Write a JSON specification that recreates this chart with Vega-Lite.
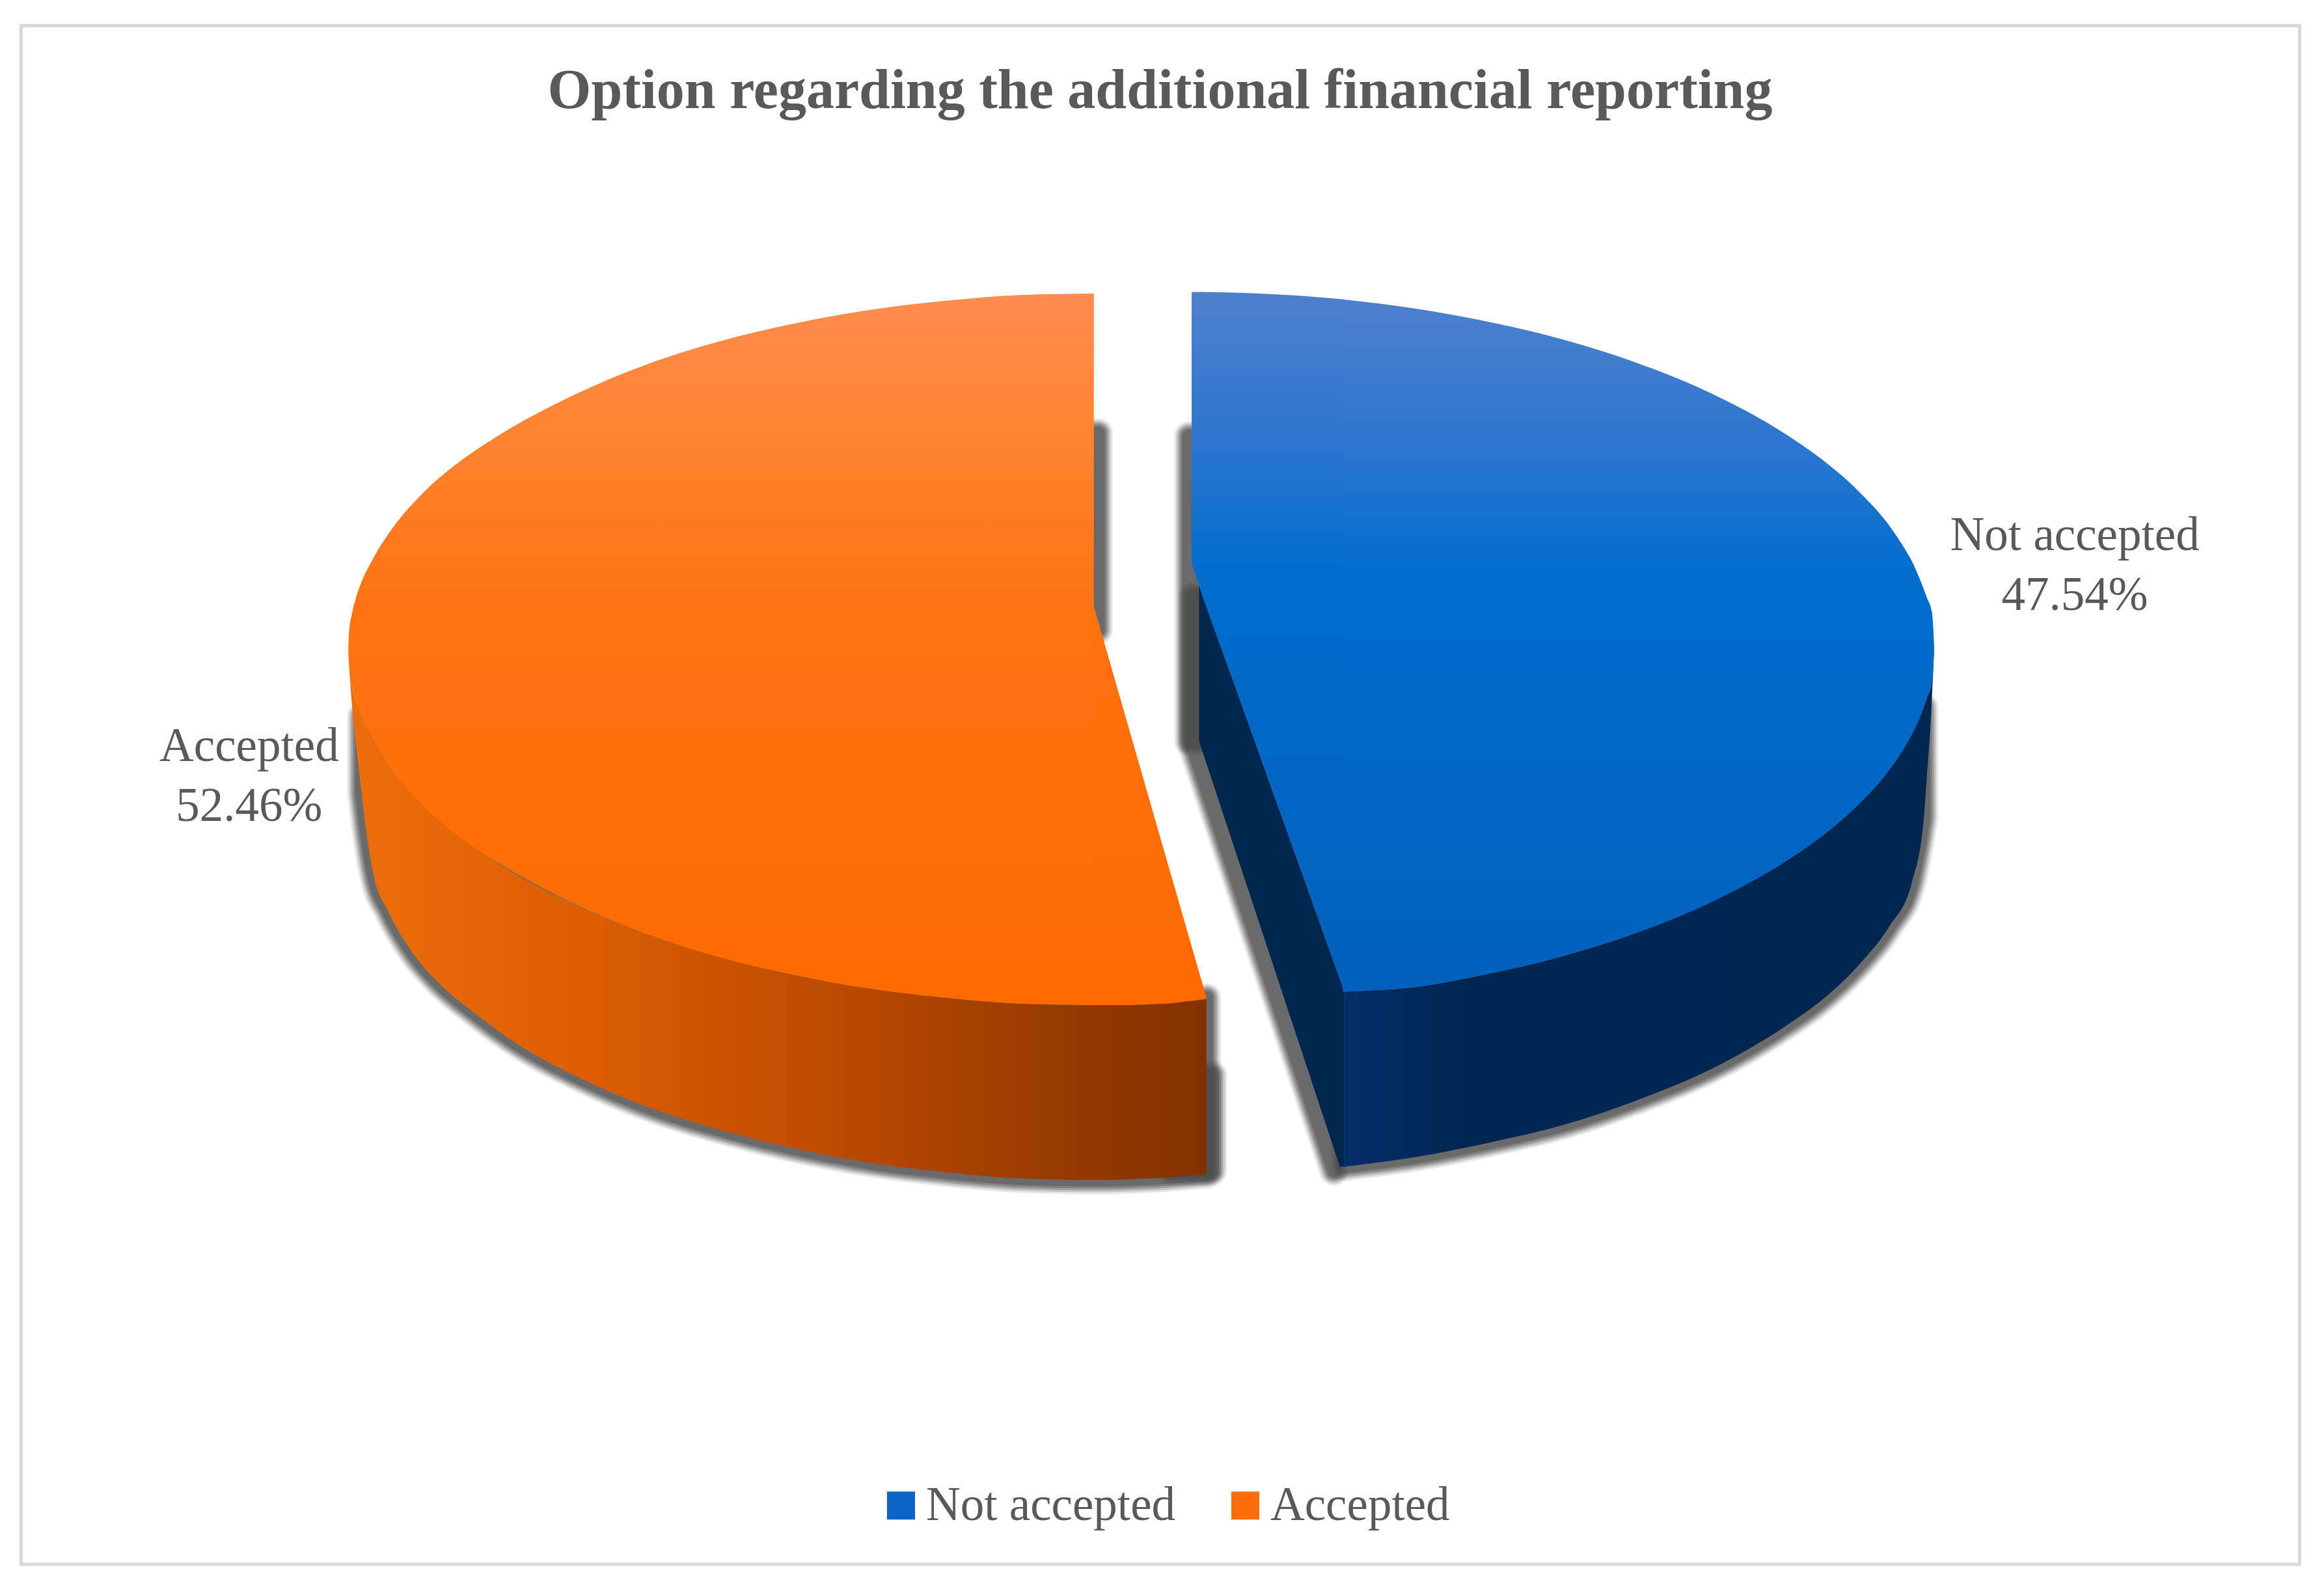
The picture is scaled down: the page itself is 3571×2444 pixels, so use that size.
{
"$schema":"https://vega.github.io/schema/vega-lite/v6.json",
"width":3571,"height":2054,
"autosize":"none",
"padding":{"left":0,"right":0,"top":0,"bottom":390},
"background":"white",
"title":{"text":"Option regarding the additional financial reporting","anchor":"middle","frame":"group","orient":"top","offset":-252,"dx":-3,"baseline":"alphabetic","font":"Liberation Serif","fontSize":86,"fontWeight":"bold","color":"#595959"},
"config":{"view":{"stroke":null}},
"datasets":{
"slices":[
{"category":"Not accepted","share":47.54,"rank":1,"label":"Not accepted\n47.54%"},
{"category":"Accepted","share":52.46,"rank":2,"label":"Accepted\n52.46%"}
],
"frame":[{"x":14.2,"x2":1551.6,"y":17.3,"y2":1055.3}],
"outline":[
{"face":"orange top","x":235,"y":438,"y2":438},
{"face":"orange top","x":235.5,"y":427,"y2":449},
{"face":"orange top","x":237.5,"y":414,"y2":462},
{"face":"orange top","x":240,"y":404,"y2":472},
{"face":"orange top","x":245,"y":390,"y2":486},
{"face":"orange top","x":250,"y":380,"y2":496},
{"face":"orange top","x":255,"y":371,"y2":505},
{"face":"orange top","x":265,"y":356,"y2":520},
{"face":"orange top","x":285,"y":333,"y2":543},
{"face":"orange top","x":310,"y":311.5,"y2":564.5},
{"face":"orange top","x":336,"y":294,"y2":582},
{"face":"orange top","x":386,"y":267,"y2":609},
{"face":"orange top","x":436,"y":246,"y2":630},
{"face":"orange top","x":486.5,"y":230,"y2":646},
{"face":"orange top","x":537,"y":218,"y2":658},
{"face":"orange top","x":587,"y":209,"y2":667},
{"face":"orange top","x":637,"y":203,"y2":673},
{"face":"orange top","x":688,"y":199,"y2":677},
{"face":"orange top","x":738,"y":198,"y2":678},
{"face":"orange tip","x":737,"y":405.5,"y2":678},
{"face":"orange tip","x":738,"y":409,"y2":678},
{"face":"orange tip","x":763,"y":496,"y2":678},
{"face":"orange tip","x":788,"y":583,"y2":677},
{"face":"orange tip","x":814,"y":673,"y2":674},
{"face":"orange side","x":235,"y":440,"y2":440},
{"face":"orange side","x":237,"y":459,"y2":470},
{"face":"orange side","x":240,"y":472,"y2":500},
{"face":"orange side","x":244,"y":483,"y2":535},
{"face":"orange side","x":247,"y":490,"y2":560},
{"face":"orange side","x":252,"y":500,"y2":590},
{"face":"orange side","x":262,"y":515.5,"y2":615},
{"face":"orange side","x":276.5,"y":533.5,"y2":640},
{"face":"orange side","x":296,"y":552.5,"y2":663},
{"face":"orange side","x":321,"y":572,"y2":684},
{"face":"orange side","x":345,"y":588,"y2":701.6},
{"face":"orange side","x":394,"y":613,"y2":728.5},
{"face":"orange side","x":443,"y":632.5,"y2":749},
{"face":"orange side","x":492.5,"y":647.5,"y2":764},
{"face":"orange side","x":542,"y":659,"y2":776},
{"face":"orange side","x":591,"y":667.5,"y2":785},
{"face":"orange side","x":640,"y":673.4,"y2":791},
{"face":"orange side","x":689,"y":677,"y2":795},
{"face":"orange side","x":738,"y":678,"y2":796},
{"face":"orange side","x":776,"y":677,"y2":795},
{"face":"orange side","x":814,"y":673,"y2":792},
{"face":"blue wedge","x":804,"y":197,"y2":380},
{"face":"blue wedge","x":809,"y":197,"y2":395},
{"face":"blue wedge","x":840,"y":197.6,"y2":481.7},
{"face":"blue wedge","x":875,"y":199.4,"y2":579.5},
{"face":"blue wedge","x":907,"y":202,"y2":669},
{"face":"blue top","x":906,"y":202,"y2":669},
{"face":"blue top","x":954,"y":208,"y2":666},
{"face":"blue top","x":1004,"y":217,"y2":657},
{"face":"blue top","x":1054.5,"y":229,"y2":645},
{"face":"blue top","x":1105,"y":245,"y2":629},
{"face":"blue top","x":1155,"y":265.6,"y2":608.4},
{"face":"blue top","x":1205,"y":293,"y2":581},
{"face":"blue top","x":1230,"y":310.5,"y2":563.5},
{"face":"blue top","x":1255,"y":332.4,"y2":541.6},
{"face":"blue top","x":1275,"y":355,"y2":519},
{"face":"blue top","x":1285,"y":370,"y2":504},
{"face":"blue top","x":1290,"y":378.7,"y2":495.3},
{"face":"blue top","x":1295,"y":390,"y2":485},
{"face":"blue top","x":1300,"y":403,"y2":471},
{"face":"blue top","x":1303.5,"y":413,"y2":461},
{"face":"blue top","x":1304.5,"y":426,"y2":448},
{"face":"blue top","x":1305,"y":437,"y2":437},
{"face":"blue side","x":907,"y":669,"y2":787},
{"face":"blue side","x":954,"y":666,"y2":780.7},
{"face":"blue side","x":1004,"y":657,"y2":771},
{"face":"blue side","x":1054.5,"y":645,"y2":759},
{"face":"blue side","x":1105,"y":629,"y2":742},
{"face":"blue side","x":1155,"y":608,"y2":721},
{"face":"blue side","x":1205,"y":581,"y2":692},
{"face":"blue side","x":1230,"y":563.5,"y2":674},
{"face":"blue side","x":1255,"y":541.6,"y2":650},
{"face":"blue side","x":1275,"y":519,"y2":624.5},
{"face":"blue side","x":1290,"y":495,"y2":595},
{"face":"blue side","x":1298,"y":477,"y2":552},
{"face":"blue side","x":1300,"y":471,"y2":525},
{"face":"blue side","x":1303,"y":450,"y2":480},
{"face":"blue side","x":1305,"y":437,"y2":437},
{"face":"blue wall","x":809,"y":395,"y2":500},
{"face":"blue wall","x":904,"y":660.6,"y2":787},
{"face":"blue wall","x":907,"y":669,"y2":787},
{"face":"shadow orange edge","x":700,"y":292,"y2":425},
{"face":"shadow orange edge","x":741,"y":292,"y2":425},
{"face":"shadow orange corner","x":790,"y":725,"y2":790},
{"face":"shadow orange corner","x":818,"y":725,"y2":790},
{"face":"shadow blue edge","x":802,"y":294,"y2":500},
{"face":"shadow blue edge","x":830,"y":294,"y2":500},
{"face":"shadow blue wall","x":805,"y":402,"y2":505},
{"face":"shadow blue wall","x":900,"y":660,"y2":790}
]
},
"layer":[
{"data":{"name":"frame"},
 "mark":{"type":"rect","fill":"white","stroke":"#d9d9d9","strokeWidth":5},
 "encoding":{
  "x":{"field":"x","type":"quantitative","scale":{"domain":[0,1568],"nice":false,"zero":false},"axis":null},
  "x2":{"field":"x2"},
  "y":{"field":"y","type":"quantitative","scale":{"domain":[902,0],"nice":false,"zero":false},"axis":null},
  "y2":{"field":"y2"}}},
{"data":{"name":"outline"},
 "transform":[{"filter":"(datum.face==='orange side'&&datum.x>=244)||(datum.face==='blue side'&&datum.x<=1298)||indexof(datum.face,'shadow')===0"}],
 "encoding":{
  "x":{"field":"x","type":"quantitative","axis":null},
  "y":{"field":"y","type":"quantitative","axis":null},
  "y2":{"field":"y2"},
  "detail":{"field":"face"}},
 "layer":[
  {"mark":{"type":"area","interpolate":"monotone","color":"#4a4a4a","opacity":0.13,"stroke":"#4a4a4a","strokeWidth":44,"strokeJoin":"round"}},
  {"mark":{"type":"area","interpolate":"monotone","color":"#4a4a4a","opacity":0.2,"stroke":"#4a4a4a","strokeWidth":38,"strokeJoin":"round"}},
  {"mark":{"type":"area","interpolate":"monotone","color":"#4a4a4a","opacity":0.3,"stroke":"#4a4a4a","strokeWidth":32,"strokeJoin":"round"}},
  {"mark":{"type":"area","interpolate":"monotone","color":"#4a4a4a","opacity":0.35,"stroke":"#4a4a4a","strokeWidth":26,"strokeJoin":"round"}},
  {"mark":{"type":"area","interpolate":"monotone","color":"#4a4a4a","opacity":0.4,"stroke":"#4a4a4a","strokeWidth":20,"strokeJoin":"round"}}
 ]},
{"data":{"name":"outline"},
 "transform":[{"filter":{"field":"face","equal":"orange side"}}],
 "mark":{"type":"area","interpolate":"monotone","color":{"gradient":"linear","x1":0,"y1":0,"x2":1,"y2":0,"stops":[{"offset":0,"color":"#ec6f0c"},{"offset":0.3,"color":"#d95c00"},{"offset":0.6,"color":"#b84800"},{"offset":0.8,"color":"#9a3c00"},{"offset":1,"color":"#813100"}]}},
 "encoding":{
  "x":{"field":"x","type":"quantitative","axis":null},
  "y":{"field":"y","type":"quantitative","axis":null},
  "y2":{"field":"y2"}}},
{"data":{"name":"outline"},
 "transform":[{"filter":{"field":"face","equal":"blue wall"}}],
 "mark":{"type":"area","color":"#01274f"},
 "encoding":{
  "x":{"field":"x","type":"quantitative","axis":null},
  "y":{"field":"y","type":"quantitative","axis":null},
  "y2":{"field":"y2"}}},
{"data":{"name":"outline"},
 "transform":[{"filter":{"field":"face","equal":"blue side"}}],
 "mark":{"type":"area","interpolate":"monotone","color":{"gradient":"linear","x1":0,"y1":0,"x2":1,"y2":0,"stops":[{"offset":0,"color":"#012d66"},{"offset":0.2,"color":"#012653"},{"offset":1,"color":"#00264f"}]}},
 "encoding":{
  "x":{"field":"x","type":"quantitative","axis":null},
  "y":{"field":"y","type":"quantitative","axis":null},
  "y2":{"field":"y2"}}},
{"data":{"name":"outline"},
 "transform":[{"filter":{"field":"face","equal":"orange top"}}],
 "mark":{"type":"area","interpolate":"monotone","color":{"gradient":"linear","x1":0,"y1":0,"x2":0,"y2":1,"stops":[{"offset":0,"color":"#ff8c50"},{"offset":0.2,"color":"#ff842f"},{"offset":0.42,"color":"#ff7412"},{"offset":1,"color":"#ff6a00"}]}},
 "encoding":{
  "x":{"field":"x","type":"quantitative","axis":null},
  "y":{"field":"y","type":"quantitative","axis":null},
  "y2":{"field":"y2"}}},
{"data":{"name":"outline"},
 "transform":[{"filter":{"field":"face","equal":"orange tip"}}],
 "mark":{"type":"area","color":{"gradient":"linear","x1":0,"y1":0,"x2":0,"y2":1,"stops":[{"offset":0,"color":"#ff7310"},{"offset":1,"color":"#ff6a00"}]}},
 "encoding":{
  "x":{"field":"x","type":"quantitative","axis":null},
  "y":{"field":"y","type":"quantitative","axis":null},
  "y2":{"field":"y2"}}},
{"data":{"name":"outline"},
 "transform":[{"filter":{"field":"face","oneOf":["blue wedge","blue top"]}}],
 "mark":{"type":"area","interpolate":"monotone","color":{"gradient":"linear","x1":0,"y1":0,"x2":0,"y2":1,"stops":[{"offset":0,"color":"#4d80cc"},{"offset":0.2,"color":"#2f76cf"},{"offset":0.4,"color":"#006dcd"},{"offset":1,"color":"#0060bc"}]}},
 "encoding":{
  "x":{"field":"x","type":"quantitative","axis":null},
  "y":{"field":"y","type":"quantitative","axis":null},
  "y2":{"field":"y2"},
  "detail":{"field":"face"}}},
{"data":{"name":"slices"},
 "mark":{"type":"square","size":0},
 "encoding":{
  "color":{"field":"category","type":"nominal","sort":null,
   "scale":{"domain":["Not accepted","Accepted"],"range":["#0b63c5","#ff6d0a"]},
   "legend":{"title":null,"orient":"none","direction":"horizontal","legendX":1348,"legendY":2276,"symbolType":"square","symbolSize":1850,"symbolOpacity":1,"symbolStrokeWidth":0,"labelFont":"Liberation Serif","labelFontSize":73,"labelColor":"#595959","labelOffset":2,"columnPadding":70,"labelLimit":600}}}},
{"data":{"name":"slices"},
 "mark":{"type":"text","radius":1412,"dy":-42,"font":"Liberation Serif","fontSize":73,"color":"#595959","lineBreak":"\n","lineHeight":92,"align":"center","baseline":"middle"},
 "encoding":{
  "theta":{"field":"share","type":"quantitative","stack":true,"scale":{"range":[-0.0379,6.2453]}},
  "order":{"field":"rank"},
  "text":{"field":"label"}}}
]
}
